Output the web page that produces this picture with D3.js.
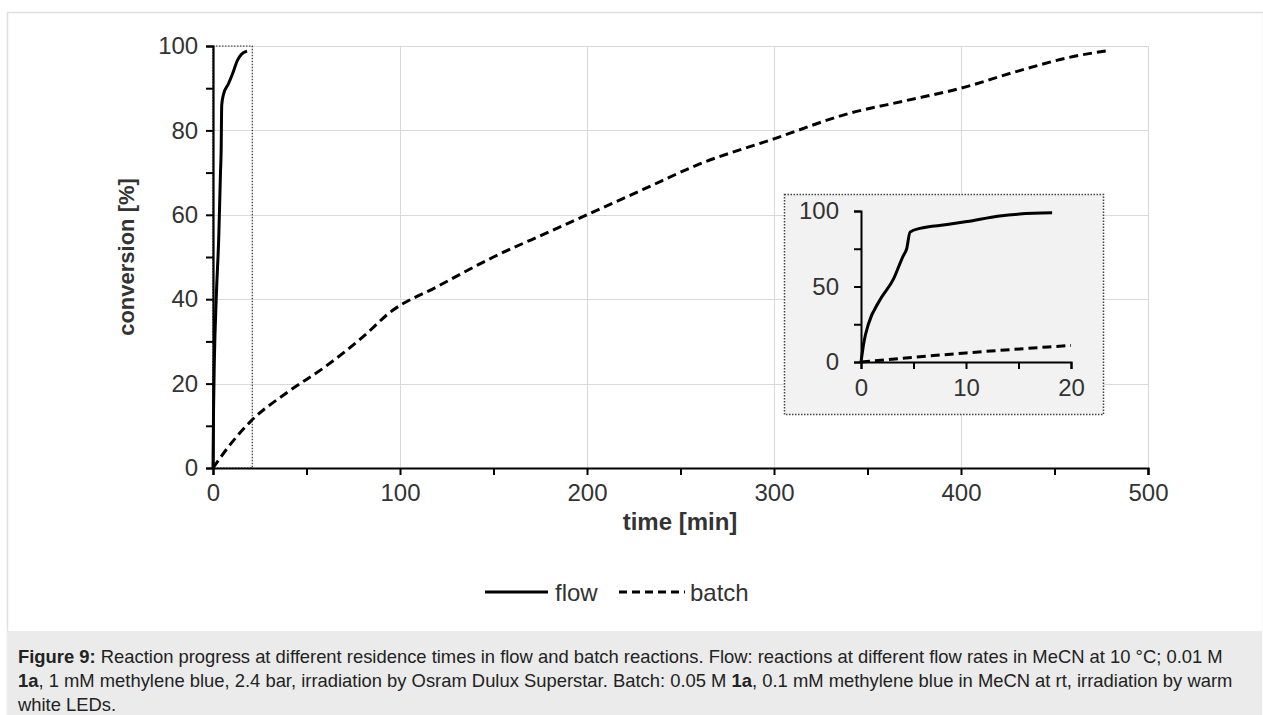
<!DOCTYPE html>
<html>
<head>
<meta charset="utf-8">
<script src="https://cdn.jsdelivr.net/npm/d3@7"></script>
<style>
  body { margin: 0; background: #fff; }
  svg { display: block; font-family: "Liberation Sans", Arial, sans-serif; }
</style>
</head>
<body>
<div id="chart"></div>
<script>
// flow: residence time [min] vs conversion [%]
let flowTime = [0, 0.3, 0.7, 1.8, 3.1, 4.0, 4.35, 4.67, 5.6, 8.2, 10.1, 13.2, 15.1, 18.2];
let flowConv = [0, 14, 25, 41, 55, 70, 75, 86, 88.5, 91, 93, 96.7, 98, 98.8];

// batch: reaction time [min] vs conversion [%]
let batchTime = [0, 10, 20, 40, 60, 80, 95, 120, 150, 180, 200, 230, 260, 300, 340, 370, 400, 430, 460, 480];
let batchConv = [0, 6, 11, 18, 24, 31, 37, 43, 50, 56, 60, 66, 72, 78, 84, 87, 90, 94, 97.5, 99];

let xTicks = [0, 100, 200, 300, 400, 500];
let yTicks = [0, 20, 40, 60, 80, 100];
let insetXTicks = [0, 10, 20];
let insetYTicks = [0, 50, 100];

let captionLines = [
    [["Figure 9:", true], [" Reaction progress at different residence times in flow and batch reactions. Flow: reactions at different flow rates in MeCN at 10 °C; 0.01 M", false]],
    [["1a", true], [", 1 mM methylene blue, 2.4 bar, irradiation by Osram Dulux Superstar. Batch: 0.05 M ", false], ["1a", true], [", 0.1 mM methylene blue in MeCN at rt, irradiation by warm", false]],
    [["white LEDs.", false]]
];

function toPoints(t, c) {
    return t.map((d, i) => ({ t: d, c: c[i] }));
}

let flow = toPoints(flowTime, flowConv);
let batch = toPoints(batchTime, batchConv);

let width = 1263, height = 715;
let svg = d3.select("#chart").append("svg")
    .attr("width", width)
    .attr("height", height);

// figure frame + caption box
svg.append("rect")
    .attr("x", 7.5).attr("y", 12.5)
    .attr("width", width - 7).attr("height", height)
    .attr("fill", "#fff")
    .attr("stroke", "#e0e0e0")
    .attr("stroke-width", 1.5);
svg.append("rect")
    .attr("x", 7).attr("y", 631)
    .attr("width", width - 8).attr("height", height - 631)
    .attr("fill", "#ebebeb");

let caption = svg.append("text")
    .attr("font-size", 18.4)
    .attr("fill", "#222");
captionLines.forEach((line, i) => {
    let t = caption.append("tspan").attr("x", 18).attr("y", 663 + i * 24);
    line.forEach((part, j) => {
        let s = j === 0 ? t : caption.append("tspan");
        s.text(part[0]).attr("font-weight", part[1] ? "bold" : null);
    });
});

// main plot
let x = d3.scaleLinear().domain([0, 500]).range([213, 1148]);
let y = d3.scaleLinear().domain([0, 100]).range([468, 46]);

let grid = svg.append("g").attr("stroke", "#d9d9d9").attr("stroke-width", 1);
yTicks.slice(1).forEach((v) => {
    grid.append("line").attr("x1", x(0)).attr("x2", x(500))
        .attr("y1", Math.round(y(v)) + 0.5).attr("y2", Math.round(y(v)) + 0.5);
});
xTicks.slice(1).forEach((v) => {
    grid.append("line").attr("y1", y(0)).attr("y2", y(100))
        .attr("x1", Math.round(x(v)) + 0.5).attr("x2", Math.round(x(v)) + 0.5);
});

// zoom region marker
svg.append("rect")
    .attr("x", x(0)).attr("y", y(100))
    .attr("width", x(21) - x(0)).attr("height", y(0) - y(100))
    .attr("fill", "none")
    .attr("stroke", "#333")
    .attr("stroke-width", 1.2)
    .attr("stroke-dasharray", "1.5,1.5");

let xAxis = svg.append("g")
    .attr("transform", `translate(0,${y(0)})`)
    .call(d3.axisBottom(x).tickValues(d3.range(0, 501, 50)).tickSize(7).tickFormat((d) => xTicks.includes(d) ? d : ""));
let yAxis = svg.append("g")
    .attr("transform", `translate(${x(0)},0)`)
    .call(d3.axisLeft(y).tickValues(d3.range(0, 101, 10)).tickSize(7).tickFormat((d) => yTicks.includes(d) ? d : ""));

[xAxis, yAxis].forEach((a) => {
    a.select(".domain").attr("stroke", "#000").attr("stroke-width", 2.2);
    a.selectAll(".tick line").attr("stroke", "#000").attr("stroke-width", 2);
    a.selectAll(".tick text").attr("font-size", 24).attr("fill", "#333")
        .attr("font-family", "'Liberation Sans', Arial, sans-serif");
});
xAxis.selectAll(".tick text").attr("dy", "0.95em");
yAxis.selectAll(".tick text").attr("dx", "-0.2em");

svg.append("text")
    .attr("x", 680).attr("y", 530)
    .attr("text-anchor", "middle")
    .attr("font-size", 24).attr("font-weight", "bold").attr("fill", "#333")
    .text("time [min]");
svg.append("text")
    .attr("transform", `translate(134,257) rotate(-90)`)
    .attr("text-anchor", "middle")
    .attr("font-size", 22).attr("font-weight", "bold").attr("fill", "#333")
    .text("conversion [%]");

let line = d3.line()
    .x((d) => x(d.t))
    .y((d) => y(d.c))
    .curve(d3.curveMonotoneX);

svg.append("path").datum(flow)
    .attr("d", line).attr("fill", "none")
    .attr("stroke", "#000").attr("stroke-width", 3);
svg.append("path").datum(batch)
    .attr("d", line).attr("fill", "none")
    .attr("stroke", "#000").attr("stroke-width", 3)
    .attr("stroke-dasharray", "9,5");

// inset
let inset = svg.append("g");
inset.append("rect")
    .attr("x", 784.5).attr("y", 194.5)
    .attr("width", 319).attr("height", 220)
    .attr("fill", "#f2f2f2")
    .attr("stroke", "#444")
    .attr("stroke-width", 1.5)
    .attr("stroke-dasharray", "1.5,1.5");

let ix = d3.scaleLinear().domain([0, 20]).range([861, 1071]);
let iy = d3.scaleLinear().domain([0, 100]).range([362, 211]);

let ixAxis = inset.append("g")
    .attr("transform", `translate(0,${iy(0)})`)
    .call(d3.axisBottom(ix).tickValues([0, 5, 10, 15, 20]).tickSize(7).tickFormat((d) => insetXTicks.includes(d) ? d : ""));
let iyAxis = inset.append("g")
    .attr("transform", `translate(${ix(0)},0)`)
    .call(d3.axisLeft(iy).tickValues([0, 25, 50, 75, 100]).tickSize(7).tickFormat((d) => insetYTicks.includes(d) ? d : ""));

[ixAxis, iyAxis].forEach((a) => {
    a.select(".domain").attr("stroke", "#000").attr("stroke-width", 2);
    a.selectAll(".tick line").attr("stroke", "#000").attr("stroke-width", 2);
    a.selectAll(".tick text").attr("font-size", 24).attr("fill", "#333")
        .attr("font-family", "'Liberation Sans', Arial, sans-serif");
});
ixAxis.selectAll(".tick text").attr("dy", "1.0em");
iyAxis.selectAll(".tick text").attr("dx", "-0.5em");

let iline = d3.line()
    .x((d) => ix(d.t))
    .y((d) => iy(d.c))
    .curve(d3.curveMonotoneX);

inset.append("path").datum(flow)
    .attr("d", iline).attr("fill", "none")
    .attr("stroke", "#000").attr("stroke-width", 3);
inset.append("path").datum(batch.filter((d) => d.t <= 20))
    .attr("d", iline).attr("fill", "none")
    .attr("stroke", "#000").attr("stroke-width", 3)
    .attr("stroke-dasharray", "9,5");

// legend
let legend = svg.append("g").attr("font-size", 24).attr("fill", "#333");
legend.append("line")
    .attr("x1", 485).attr("x2", 548).attr("y1", 592).attr("y2", 592)
    .attr("stroke", "#000").attr("stroke-width", 3);
legend.append("text").attr("x", 555).attr("y", 601).attr("fill", "#333").text("flow");
legend.append("line")
    .attr("x1", 619).attr("x2", 685).attr("y1", 592).attr("y2", 592)
    .attr("stroke", "#000").attr("stroke-width", 3)
    .attr("stroke-dasharray", "8,5");
legend.append("text").attr("x", 690).attr("y", 601).attr("fill", "#333").text("batch");
</script>
</body>
</html>
